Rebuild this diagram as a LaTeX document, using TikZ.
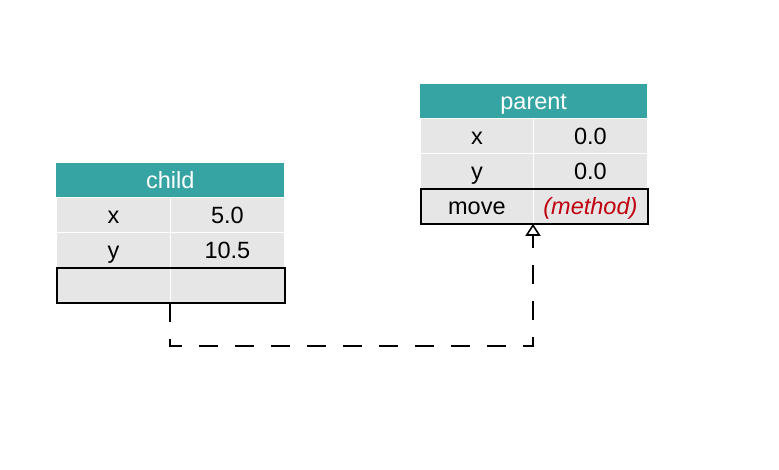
\documentclass[tikz,border=0pt]{standalone}
\usepackage{fontspec}
\setmainfont{Liberation Sans}
\usetikzlibrary{arrows.meta}
\definecolor{teal}{RGB}{53,164,163}
\definecolor{cellgray}{RGB}{230,230,230}
\definecolor{methred}{RGB}{192,0,16}
\tikzset{
  txt/.style={font=\fontsize{23.5}{28}\selectfont, text height=20pt, text depth=3pt},
  hdr/.style={txt, fill=teal, draw=none, text=white, minimum height=34pt, inner sep=0pt, anchor=north west},
  cell/.style={txt, fill=cellgray, draw=white, line width=0.8pt, inner sep=0pt, anchor=north west},
  methbox/.style={draw=black, line width=1.6pt, fill=none, inner sep=0pt, anchor=north west},
  inherit/.style={line width=2pt, dash pattern=on 19pt off 17pt, -{Triangle[open, length=12pt, width=15pt, line width=1.6pt]}},
}
\begin{document}
\begin{tikzpicture}[x=1pt,y=-1pt]
\useasboundingbox (0,0) rectangle (779,470);
% child
\node[hdr, minimum width=228pt] (ch) at (56,163) {child};
\node[cell, minimum width=114pt, minimum height=35pt] (cxk) at (56,197) {x};
\node[cell, minimum width=114pt, minimum height=35pt] (cxv) at (170,197) {5.0};
\node[cell, minimum width=114pt, minimum height=35pt] (cyk) at (56,232) {y};
\node[cell, minimum width=114pt, minimum height=35pt] (cyv) at (170,232) {10.5};
\node[cell, minimum width=114pt, minimum height=35pt] (cmk) at (56,267) {};
\node[cell, minimum width=114pt, minimum height=35pt] (cmv) at (170,267) {};
\node[methbox, minimum width=228pt, minimum height=35pt] (cm) at (56,267) {};
% parent
\node[hdr, minimum width=227pt] (ph) at (420,84) {parent};
\node[cell, minimum width=113pt, minimum height=35pt] (pxk) at (420,118) {x};
\node[cell, minimum width=114pt, minimum height=35pt] (pxv) at (533,118) {0.0};
\node[cell, minimum width=113pt, minimum height=35pt] (pyk) at (420,153) {y};
\node[cell, minimum width=114pt, minimum height=35pt] (pyv) at (533,153) {0.0};
\node[cell, minimum width=113pt, minimum height=35pt] (pmk) at (420,188) {move};
\node[cell, minimum width=114pt, minimum height=35pt, text=methred] (pmv) at (533,188) {\itshape (method)};
\node[methbox, minimum width=227pt, minimum height=35pt] (pm) at (420,188) {};
% connector
\draw[inherit] (cmv.south west) -- ++(0,43) coordinate (c1) -- (c1 -| pmv.south west) -- (pmv.south west);
\end{tikzpicture}
\end{document}
